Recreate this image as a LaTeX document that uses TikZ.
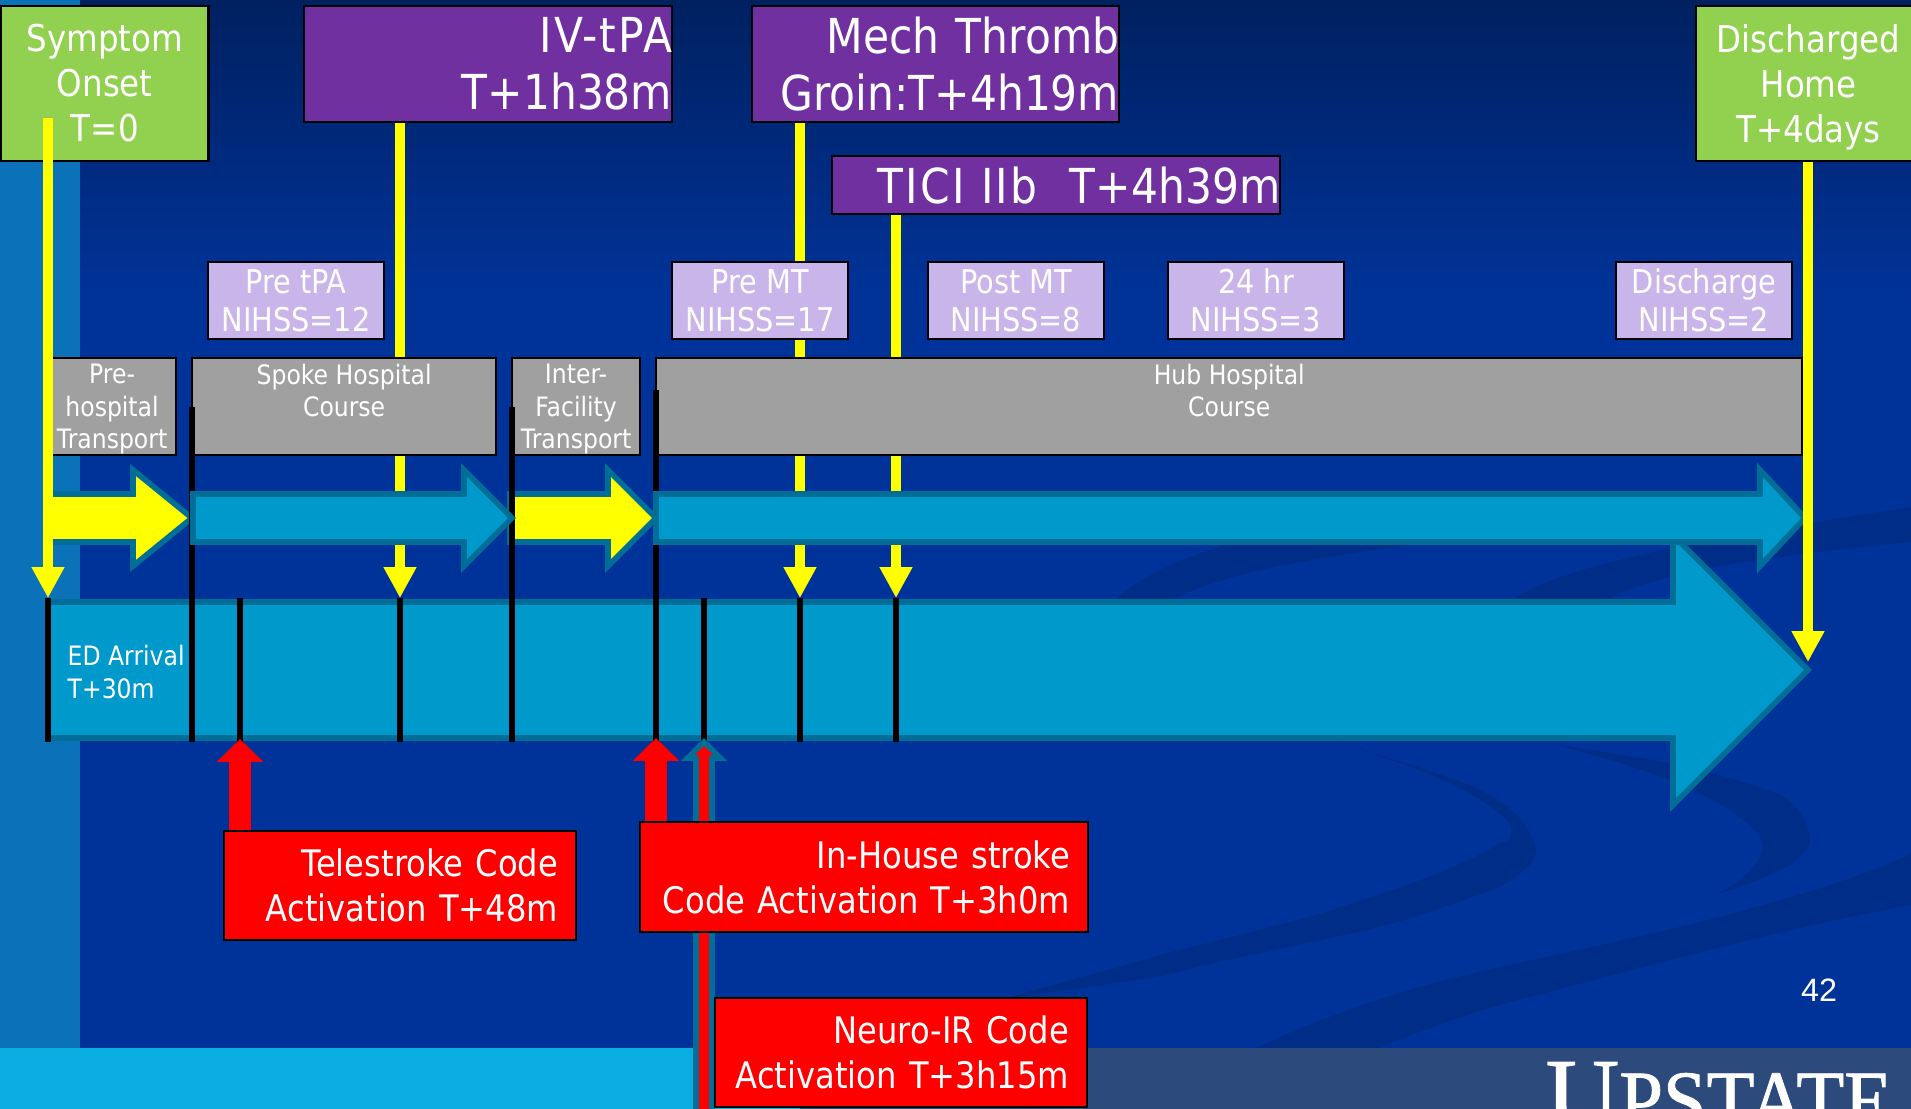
\documentclass[tikz,border=0pt]{standalone}
\usepackage{fontspec}
\setmainfont[FakeStretch=0.88]{DejaVu Sans}
\newfontfamily\slidenum{Liberation Sans}
\newfontfamily\logofont[FakeBold=1]{Liberation Serif}
\newfontfamily\logosmall[FakeStretch=0.93,FakeBold=1]{Liberation Serif}
\usetikzlibrary{arrows.meta,positioning,calc}
\definecolor{slideblue}{HTML}{003399}
\definecolor{slidedark}{HTML}{002060}
\definecolor{swoosh}{HTML}{002D87}
\definecolor{sideband}{HTML}{0B72B9}
\definecolor{stripleft}{HTML}{0BAEE2}
\definecolor{stripright}{HTML}{2C4A7C}
\definecolor{barfill}{HTML}{0099CC}
\definecolor{barline}{HTML}{006E96}
\definecolor{onsetgreen}{HTML}{92D050}
\definecolor{treatpurple}{HTML}{7030A0}
\definecolor{scorelilac}{HTML}{C9B5EA}
\definecolor{coursegray}{HTML}{A0A0A0}
\definecolor{eventyellow}{HTML}{FFFF00}
\definecolor{coderred}{HTML}{FF0000}
\newcommand{\nodepth}[1]{\raisebox{0pt}[\height][0pt]{#1}}
\tikzset{
  box/.style={draw=black, line width=0.6pt, inner sep=0pt, text=white, align=center, anchor=north west},
  greenbox/.style={box, fill=onsetgreen, font=\fontsize{10.5}{12.8}\selectfont, minimum height=44pt},
  purplebox/.style={box, fill=treatpurple, font=\fontsize{13.7}{16.3}\selectfont, align=right, text width=#1},
  lilacbox/.style={box, fill=scorelilac, font=\fontsize{9.3}{10.7}\selectfont, minimum width=50pt, minimum height=21.9pt},
  graybox/.style={box, fill=coursegray, font=\fontsize{7.6}{9.25}\selectfont, minimum height=27.6pt},
  redbox/.style={box, fill=coderred, font=\fontsize{10.4}{12.8}\selectfont, align=right, inner xsep=5.2pt, text width=#1},
  barshape/.style={draw=barline, line width=1.6pt, miter limit=10},
  tickline/.style={black, line width=1.5pt},
  yellowline/.style={eventyellow, line width=3pt, -{Triangle[length=8.8pt,width=8.8pt]}},
  redline/.style={coderred, line width=6.3pt, -{Triangle[length=6.5pt,width=12.8pt]}},
}
\begin{document}
\begin{tikzpicture}[x=0.01cm, y=-0.01cm]
  \useasboundingbox (0,0) rectangle (1911,1109);
  % Background
  \fill[slideblue] (0,0) rectangle (1911,1109);
  \shade[top color=slidedark, bottom color=slideblue] (0,0) rectangle (1911,300);
  \fill[sideband] (0,0) rectangle (80,1048);
  % Swooshes
  \fill[swoosh] (1115,600) .. controls (1140,575) and (1190,555) .. (1240,540)
    -- (1450,540) .. controls (1330,555) and (1230,570) .. (1172,600) -- cycle;
  \fill[swoosh] (1513,600) .. controls (1560,565) and (1700,540) .. (1911,507)
    -- (1911,542) .. controls (1780,555) and (1660,570) .. (1607,600) -- cycle;
  \fill[swoosh] (1337,742) .. controls (1400,762) and (1470,785) .. (1508,821)
    .. controls (1515,835) and (1510,843) .. (1500,843)
    .. controls (1440,880) and (1340,905) .. (1333,910)
    .. controls (1280,925) and (1220,940) .. (1167,953)
    .. controls (1110,970) and (1050,985) .. (1000,1000)
    .. controls (1060,990) and (1110,985) .. (1167,975)
    .. controls (1220,960) and (1280,950) .. (1333,937)
    .. controls (1400,925) and (1450,905) .. (1500,887)
    .. controls (1530,870) and (1540,855) .. (1535,846)
    .. controls (1525,810) and (1490,795) .. (1470,785)
    .. controls (1430,770) and (1380,755) .. (1337,742) -- cycle;
  \fill[swoosh] (1557,745) .. controls (1630,765) and (1700,785) .. (1747,823)
    .. controls (1760,835) and (1765,842) .. (1763,850)
    .. controls (1755,870) and (1735,885) .. (1717,894)
    .. controls (1750,885) and (1770,875) .. (1787,867)
    .. controls (1805,855) and (1812,845) .. (1810,835)
    .. controls (1805,815) and (1795,805) .. (1783,796)
    .. controls (1720,770) and (1630,755) .. (1557,745) -- cycle;
  \fill[swoosh] (1255,1048) .. controls (1350,1005) and (1420,985) .. (1500,967)
    .. controls (1600,945) and (1800,905) .. (1911,854)
    -- (1911,905) .. controls (1800,925) and (1650,965) .. (1500,1005)
    .. controls (1450,1020) and (1410,1035) .. (1379,1048) -- cycle;
  % Bottom strip
  \fill[stripleft] (0,1048) rectangle (800,1109);
  \fill[stripright] (800,1048) rectangle (1911,1109);
  \begin{scope}
    \clip (0,0) rectangle (1911,1109);
    \node[anchor=base west, inner sep=0pt, white, font=\logofont\fontsize{29}{29}\selectfont] (logo) at (1545,1129) {U{\logosmall\fontsize{24}{24}\selectfont PSTATE}};
  \end{scope}
  \node[white, font=\slidenum\fontsize{9.2}{9.2}\selectfont] (pagenum) at (1819,990) {42};

  % Main time bar
  \draw[barshape, fill=barfill] (48,602) -- (1673,602) -- (1673,535) -- (1808,670) -- (1673,805) -- (1673,738) -- (48,738) -- cycle;
  % Tick positions on the bar
  \foreach \tname/\tx in {tonset/48,tspokein/192,ttele/240,ttpa/400,tleave/512,thub/656,tneuro/704,tgroin/800,ttici/896}
    \coordinate (\tname) at (\tx,598);
  \coordinate (tdisch) at (1808,662);
  \foreach \tname in {tonset,ttele,ttpa,tneuro,tgroin,ttici}
    \draw[tickline] (\tname) -- (\tname |- 0,742);

  % Treatment boxes
  \node[greenbox, minimum width=59pt] (onset) at (0,5) {Symptom\\Onset\\T=0};
  \node[greenbox, minimum width=64pt] (home) at (1695,5) {Discharged\\Home\\\nodepth{T+4days}};
  \node[purplebox=104.7pt, minimum height=33pt] (ivtpa) at (303,5) {{\addfontfeatures{LetterSpace=4}IV-tPA}\\T+1h38m};
  \node[purplebox=104.4pt, minimum height=33pt] (mech) at (751,5) {Mech Thromb\\Groin:T+4h19m};
  \node[purplebox=127.5pt, minimum height=16.5pt] (tici) at (831,155) {{\addfontfeatures{LetterSpace=5}TICI IIb}\ \ T+4h39m};

  % Yellow event arrows behind the course boxes
  \draw[yellowline] (ivtpa.south -| ttpa) -- (ttpa);
  \draw[yellowline] (mech.south -| tgroin) -- (tgroin);
  \draw[yellowline] (tici.south -| ttici) -- (ttici);

  % NIHSS scores
  \node[lilacbox] (pretpa) at (207,261) {Pre tPA\\NIHSS=12};
  \node[lilacbox] (premt) at (671,261) {Pre MT\\NIHSS=17};
  \node[lilacbox] (postmt) at (927,261) {Post MT\\NIHSS=8};
  \node[lilacbox] (day1) at (1167,261) {24 hr\\NIHSS=3};
  \node[lilacbox] (dischscore) at (1615,261) {Discharge\\NIHSS=2};

  % Course boxes
  \node[graybox, minimum width=36.4pt] (prehosp) at (47,357) {Pre-\\hospital\\\nodepth{Transport}};
  \node[graybox, minimum width=86.5pt] (spoke) at (191,357) {Spoke Hospital\\Course\\\mbox{}};
  \node[graybox, minimum width=36.4pt] (inter) at (511,357) {Inter-\\Facility\\\nodepth{Transport}};
  \node[graybox, minimum width=326pt] (hub) at (655,357) {Hub Hospital\\Course\\\mbox{}};

  % Course arrows
  \draw[barshape, fill=eventyellow] (48,494) -- (133,494) -- (133,470) -- (192,518) -- (133,566) -- (133,542) -- (48,542) -- cycle;
  \draw[barshape, fill=eventyellow] (510,494) -- (608,494) -- (608,470) -- (656,518) -- (608,566) -- (608,542) -- (510,542) -- cycle;
  \foreach \tname/\ttop in {tspokein/407,tleave/407,thub/390}
    \draw[tickline] (\tname |- 0,\ttop) -- (\tname |- 0,742);
  \draw[barshape, fill=barfill] (193,494) -- (464,494) -- (464,470) -- (512,518) -- (464,566) -- (464,542) -- (193,542) -- cycle;
  \draw[barshape, fill=barfill] (656,494) -- (1760,494) -- (1760,470) -- (1805,518) -- (1760,566) -- (1760,542) -- (656,542) -- cycle;

  % Arrows over everything
  \coordinate (onsetstart) at (48,118);
  \draw[yellowline] (onsetstart) -- (tonset);
  \draw[yellowline] (home.south -| tdisch) -- (tdisch);

  % Text on the bar
  \node[anchor=west, align=left, inner sep=0pt, white, font=\fontsize{7.6}{9.25}\selectfont] (edarrival) at (67,672) {ED Arrival\\T+30m};

  % Code activation boxes and arrows
  \coordinate (teletip) at (240,739);
  \coordinate (hubtip) at (656,738);
  \coordinate (neurotip) at (704,738);
  \coordinate (neurotipin) at (704,746);
  \coordinate (neurobase) at (704,1109);
  \draw[barline, line width=6.3pt, -{Triangle[length=6.5pt,width=12.8pt]}] (neurobase) -- (neurotip);
  \draw[coderred, line width=2.8pt, -{Triangle[length=2.6pt,width=5.1pt]}] (neurobase) -- (neurotipin);
  \node[redbox=89.8pt, minimum height=31pt] (tele) at (223,830) {Telestroke Code\\Activation T+48m};
  \node[redbox=117.1pt, minimum height=31.3pt] (inhouse) at (639,821) {In-House stroke\\Code Activation T+3h0m};
  \node[redbox=95.4pt, minimum height=31pt] (neuro) at (714,997) {Neuro-IR Code\\Activation T+3h15m};
  \draw[redline] (tele.north -| teletip) -- (teletip);
  \draw[redline] (inhouse.north -| hubtip) -- (hubtip);
\end{tikzpicture}
\end{document}
